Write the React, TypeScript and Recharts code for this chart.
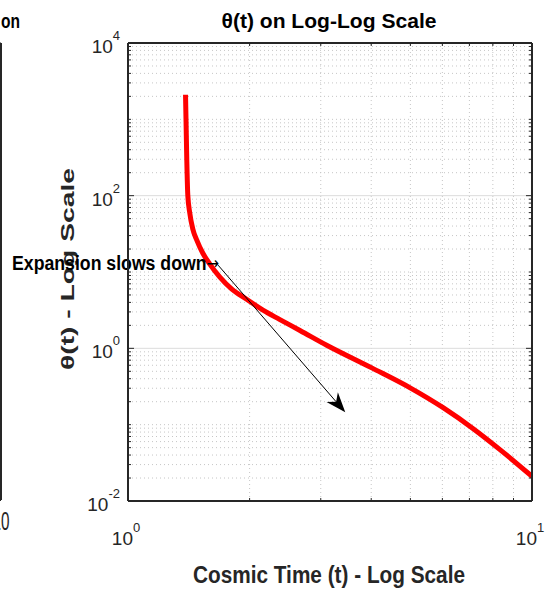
import React from 'react';
import { LineChart, Line, XAxis, YAxis, ReferenceLine } from 'recharts';

// theta(t)
const cosmicTime = [1.388, 1.398, 1.406, 1.422, 1.447, 1.48, 1.532, 1.594, 1.688, 1.807, 1.966, 2.158, 2.377, 2.665, 3.103, 4.012, 4.994, 6.026, 7.152, 8.345, 10];
const thetaValues = [2097, 294, 102, 59.2, 36.5, 26.1, 17.6, 12.7, 8.55, 5.95, 4.4, 3.16, 2.38, 1.715, 1.1, 0.555, 0.304, 0.167, 0.0886, 0.0468, 0.021];

// the bit of the left subplot that is still visible
const leftTime = [9.8, 10];
const leftTheta = [5, 5];
const leftXTicks = [10];
const leftYTicks = [0, 1, 2, 3, 4, 5, 6];

const xMajorTicks = [1, 10];
const yMajorTicks = [0.01, 1, 100, 10000];
const minorSteps = [2, 3, 4, 5, 6, 7, 8, 9];
const yDecades = [0.01, 0.1, 1, 10, 100, 1000];
const xMinorTicks = minorSteps;
const yMinorTicks = [0.1, 10, 1000].concat(yDecades.flatMap(d => minorSteps.map(m => m * d)));

const arrowTail = { x: 1.671, y: 12.3 };
const arrowHead = { x: 3.45, y: 0.145 };

const mainData = cosmicTime.map((t, i) => ({ t, theta: thetaValues[i] }));
const leftData = leftTime.map((t, i) => ({ t, theta: leftTheta[i] }));

const FONT = '"Liberation Sans", Arial, Helvetica, sans-serif';
const AXIS = '#262626';

const isMajor = (list: number[], v: number) => list.some(m => Math.abs(m - v) < 1e-9);
const expOf = (v: number) => String(Math.round(Math.log10(v)));

const LeftTick = (p: any) => {
  const v = p.payload.value;
  const major = isMajor(yMajorTicks, v);
  return (
    <g>
      <line x1={p.x} x2={p.x + (major ? 6 : 3)} y1={p.y} y2={p.y} stroke={AXIS} strokeWidth={1} />
      {major && (
        <text x={p.x - 8} y={p.y + 10} textAnchor="end" fontFamily={FONT} fontSize={19} fill={AXIS}>
          10<tspan dy={-13} fontSize={13}>{expOf(v)}</tspan>
        </text>
      )}
    </g>
  );
};

const RightTick = (p: any) => {
  const major = isMajor(yMajorTicks, p.payload.value);
  return <line x1={p.x} x2={p.x - (major ? 6 : 3)} y1={p.y} y2={p.y} stroke={AXIS} strokeWidth={1} />;
};

const BottomTick = (p: any) => {
  const v = p.payload.value;
  const major = isMajor(xMajorTicks, v);
  return (
    <g>
      <line x1={p.x} x2={p.x} y1={p.y} y2={p.y - (major ? 6 : 3)} stroke={AXIS} strokeWidth={1} />
      {major && (
        <text x={p.x - 2} y={p.y + 44} textAnchor="middle" fontFamily={FONT} fontSize={19} fill={AXIS}>
          10<tspan dy={-13} fontSize={13}>{expOf(v)}</tspan>
        </text>
      )}
    </g>
  );
};

const TopTick = (p: any) => {
  const major = isMajor(xMajorTicks, p.payload.value);
  return <line x1={p.x} x2={p.x} y1={p.y} y2={p.y + (major ? 6 : 3)} stroke={AXIS} strokeWidth={1} />;
};

const LeftPlotYTick = (p: any) => (
  <line x1={p.x} x2={p.x - 5} y1={p.y} y2={p.y} stroke={AXIS} strokeWidth={1} />
);

const LeftPlotXTick = (p: any) => (
  <text x={p.x} y={p.y + 30} textAnchor="middle" fontFamily={FONT} fontSize={26} fill={AXIS} textLength={17} lengthAdjust="spacingAndGlyphs">
    {p.payload.value}
  </text>
);

// textarrow: thin line + filled vback head, label at the tail
const ArrowShape = (p: any) => {
  const { x1, y1, x2, y2 } = p;
  const len = Math.hypot(x2 - x1, y2 - y1);
  const ux = (x2 - x1) / len;
  const uy = (y2 - y1) / len;
  const L = 20, W = 7.5, N = 14;
  const bx = x2 - ux * L, by = y2 - uy * L;
  const nx = x2 - ux * N, ny = y2 - uy * N;
  const head = `${x2},${y2} ${bx - uy * W},${by + ux * W} ${nx},${ny} ${bx + uy * W},${by - ux * W}`;
  return (
    <g>
      <line x1={x1} y1={y1} x2={nx} y2={ny} stroke="#000" strokeWidth={1} />
      <polygon points={head} fill="#000" />
      <text x={x1 + 1} y={y1 + 5} textAnchor="end" fontFamily={FONT} fontWeight="bold" fontSize={20} fill="#000" textLength={207} lengthAdjust="spacingAndGlyphs">
        Expansion slows down<tspan fontFamily='"DejaVu Sans", sans-serif' fontWeight="normal" fontSize={17} dy={-1}>→</tspan>
      </text>
    </g>
  );
};

export default function App() {
  const lineAxis = { stroke: AXIS, strokeWidth: 2 };
  return (
    <div style={{ position: 'absolute', left: 0, top: 0, width: 549, height: 597, overflow: 'hidden', background: '#fff' }}>
      <div style={{ position: 'absolute', left: -299, top: 0 }}>
        <LineChart width={320} height={597} data={leftData} margin={{ top: 43, right: 18, bottom: 46, left: 0 }}>
          <XAxis dataKey="t" type="number" domain={[0, 10]} ticks={leftXTicks} height={51} interval={0}
            tickSize={0} tickMargin={0} tickLine={false} axisLine={lineAxis} tick={(p: any) => <LeftPlotXTick {...p} />} />
          <YAxis type="number" orientation="right" domain={[0, 6]} ticks={leftYTicks} width={2} interval={0}
            tickSize={0} tickMargin={0} tickLine={false} axisLine={lineAxis} tick={(p: any) => <LeftPlotYTick {...p} />} />
          <Line dataKey="theta" stroke="#0000ff" strokeWidth={3} dot={false} isAnimationActive={false} />
          <text x={319} y={28} textAnchor="end" fontFamily={FONT} fontWeight="bold" fontSize={21} fill="#000" textLength={19} lengthAdjust="spacingAndGlyphs">on</text>
        </LineChart>
      </div>
      <div style={{ position: 'absolute', left: 0, top: 0 }}>
        <LineChart width={549} height={597} data={mainData} margin={{ top: 33, right: 7, bottom: 46, left: 68 }}>
          <XAxis dataKey="t" type="number" scale="log" domain={[1, 10]} allowDataOverflow height={50} interval={0}
            ticks={[...xMajorTicks, ...xMinorTicks]} tickSize={0} tickMargin={0} tickLine={false} axisLine={lineAxis}
            tick={(p: any) => <BottomTick {...p} />} />
          <XAxis xAxisId="top" orientation="top" dataKey="t" type="number" scale="log" domain={[1, 10]} allowDataOverflow height={10} interval={0}
            ticks={[...xMajorTicks, ...xMinorTicks]} tickSize={0} tickMargin={0} tickLine={false} axisLine={lineAxis}
            tick={(p: any) => <TopTick {...p} />} />
          <YAxis type="number" scale="log" domain={[0.01, 10000]} allowDataOverflow width={60} interval={0}
            ticks={[...yMajorTicks, ...yMinorTicks]} tickSize={0} tickMargin={0} tickLine={false} axisLine={lineAxis}
            tick={(p: any) => <LeftTick {...p} />} />
          <YAxis yAxisId="right" orientation="right" type="number" scale="log" domain={[0.01, 10000]} allowDataOverflow width={10} interval={0}
            ticks={[...yMajorTicks, ...yMinorTicks]} tickSize={0} tickMargin={0} tickLine={false} axisLine={lineAxis}
            tick={(p: any) => <RightTick {...p} />} />

          {/* grid: minor dotted, major solid */}
          {yMinorTicks.map(v => (
            <ReferenceLine key={'ym' + v} y={v} stroke="#c6c6c6" strokeWidth={1} strokeDasharray="1 3" />
          ))}
          {xMinorTicks.map(v => (
            <ReferenceLine key={'xm' + v} x={v} stroke="#c6c6c6" strokeWidth={1} strokeDasharray="1 3" />
          ))}
          {[1, 100].map(v => (
            <ReferenceLine key={'yM' + v} y={v} stroke="#dcdcdc" strokeWidth={1} />
          ))}

          <Line dataKey="theta" type="monotone" stroke="#ff0000" strokeWidth={5} dot={false} isAnimationActive={false} />

          <ReferenceLine segment={[arrowTail, arrowHead]} shape={(p: any) => <ArrowShape {...p} />} />

          <text x={329} y={28} textAnchor="middle" fontFamily={FONT} fontWeight="bold" fontSize={21} fill="#000"
            textLength={215} lengthAdjust="spacingAndGlyphs">θ(t) on Log-Log Scale</text>
          <text x={329} y={583} textAnchor="middle" fontFamily={FONT} fontWeight="bold" fontSize={24} fill={AXIS}
            textLength={272} lengthAdjust="spacingAndGlyphs">Cosmic Time (t) - Log Scale</text>
          <text x={73.5} y={269} transform="rotate(-90 73.5 269)" textAnchor="middle" fontFamily={FONT} fontWeight="bold" fontSize={18} fill={AXIS}
            textLength={202} lengthAdjust="spacingAndGlyphs">θ(t) - Log Scale</text>
        </LineChart>
      </div>
    </div>
  );
}
